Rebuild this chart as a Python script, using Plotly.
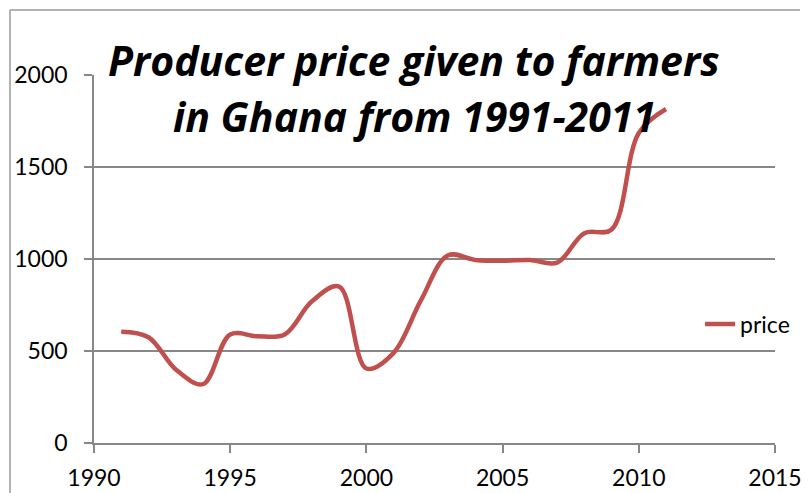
import plotly.graph_objects as go

# Producer price given to farmers in Ghana, 1991-2011
years = [1991, 1992, 1993, 1994, 1995, 1996, 1997, 1998, 1999, 2000, 2001,
         2002, 2003, 2004, 2005, 2006, 2007, 2008, 2009, 2010, 2011]
price = [605, 575, 400, 320, 590, 580, 590, 770, 850, 405, 490,
         775, 1020, 995, 990, 995, 980, 1140, 1160, 1685, 1815]

x_ticks = [1990, 1995, 2000, 2005, 2010, 2015]
y_ticks = [0, 500, 1000, 1500, 2000]

FONT = 'Lato, Calibri, Carlito, sans-serif'
TITLE_FONT = '"Open Sans", sans-serif'
GRID = '#878787'

fig = go.Figure()
fig.add_trace(go.Scatter(
    x=years,
    y=price,
    mode='lines',
    name='price',
    line=dict(color='#C0504D', width=4.5, shape='spline', smoothing=1.0)
))

# the page body has an 8px margin, so the figure is sized to fit the window
fig.update_layout(
    width=801,
    height=485,
    margin=dict(l=86, r=34, t=67, b=50, autoexpand=False),
    plot_bgcolor='white',
    paper_bgcolor='white',
    font=dict(family=FONT, size=23, color='black'),
    showlegend=True,
    legend=dict(x=0.89, y=0.323, xanchor='left', yanchor='middle',
                bgcolor='rgba(0,0,0,0)', font=dict(size=23)),
    xaxis=dict(range=[1990, 2015], tickvals=x_ticks, showgrid=False,
               showline=True, linecolor=GRID, linewidth=1.5,
               ticks='outside', ticklen=8, tickcolor=GRID, tickwidth=1.5,
               ticklabelstandoff=6, zeroline=False, automargin=False),
    yaxis=dict(range=[0, 2000], tickvals=y_ticks, showgrid=True,
               gridcolor=GRID, gridwidth=1.5,
               showline=True, linecolor=GRID, linewidth=1.5,
               ticks='outside', ticklen=8, tickcolor=GRID, tickwidth=1.5,
               ticklabelstandoff=12, zeroline=False, automargin=False),
)

# outer chart border (left and top visible)
fig.add_shape(type='line', xref='paper', yref='paper',
              x0=(10 - 94) / 681, x1=(800 - 94) / 681,
              y0=(443 - 10) / 368, y1=(443 - 10) / 368,
              line=dict(color='#9a9a9a', width=1.5))
fig.add_shape(type='line', xref='paper', yref='paper',
              x0=(10 - 94) / 681, x1=(10 - 94) / 681,
              y0=(443 - 10) / 368, y1=(443 - 500) / 368,
              line=dict(color='#9a9a9a', width=1.5))

title_font = dict(family=TITLE_FONT, size=41, color='black', weight='bold', style='italic')
fig.add_annotation(text='Producer price given to farmers', xref='paper', yref='paper',
                   x=0.47, y=1.041, xanchor='center', yanchor='middle',
                   showarrow=False, font=title_font)
fig.add_annotation(text='in Ghana from 1991-2011', xref='paper', yref='paper',
                   x=0.47, y=0.889, xanchor='center', yanchor='middle',
                   showarrow=False, font=title_font)

fig.write_html("out.html")
